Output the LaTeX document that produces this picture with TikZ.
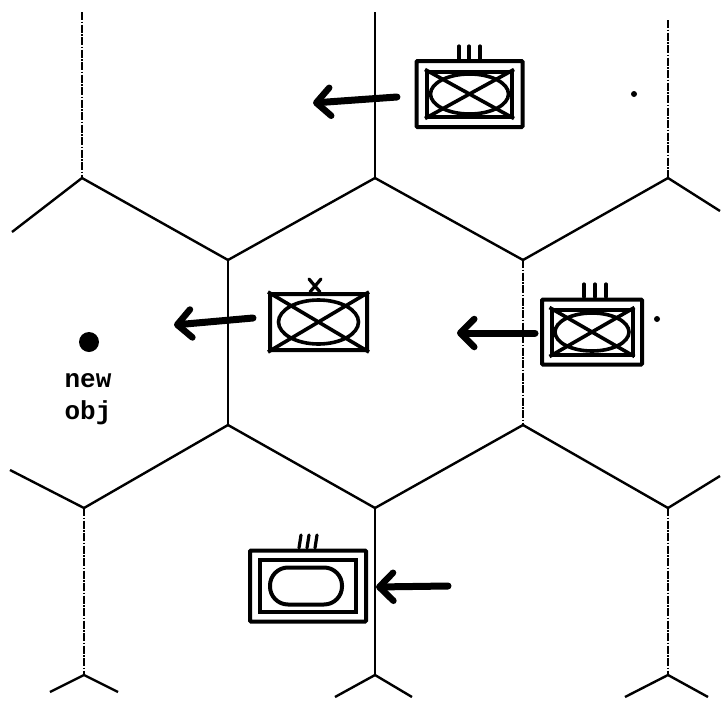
\documentclass[tikz,border=0pt]{standalone}
\usepackage{fontspec}
\setmonofont{Liberation Mono}
\usetikzlibrary{positioning,calc,arrows.meta,shapes.geometric}

\begin{document}
\begin{tikzpicture}[
  x = 1pt,
  y = -1pt,
  hex-edge/.style={line width=2.4pt},
  hex-stem/.style={line width=1.6pt},
  hex-dashed/.style={line width=1.3pt,dash pattern=on 8pt off 1.5pt on 1.5pt off 1.5pt},
  move-arrow/.style={line width=7pt,line cap=round,-{Straight Barb[round,length=14pt,width=28pt,line width=6.5pt]}},
  outer-box/.style={draw,line width=4pt,rectangle,inner sep=0pt,rounded corners=1pt},
  inner-box/.style={draw,line width=4pt,rectangle,inner sep=0pt},
  oval/.style={draw,line width=3.6pt,ellipse,inner sep=0pt},
  flat-oval/.style={draw,line width=4pt,rectangle,rounded corners=18pt,inner sep=0pt},
  cross/.style={line width=3.6pt},
  tick/.style={line width=3.2pt,line cap=round},
  ]
  \useasboundingbox (0,0) rectangle (721,702);

  % cell corners
  \coordinate (top-a) at (82,178);
  \coordinate (top-b) at (375,178);
  \coordinate (top-c) at (668,178);
  \coordinate (mid-a) at (228,260);
  \coordinate (mid-b) at (523,260);
  \coordinate (low-a) at (228,425);
  \coordinate (low-b) at (523,425);
  \coordinate (base-a) at (84,508);
  \coordinate (base-b) at (375,508);
  \coordinate (base-c) at (668,508);
  \coordinate (foot-a) at (84,675);
  \coordinate (foot-b) at (375,675);
  \coordinate (foot-c) at (668,675);

  \foreach \from/\to in {top-a/mid-a,mid-a/top-b,top-b/mid-b,mid-b/top-c,
    low-a/base-a,low-a/base-b,base-b/low-b,low-b/base-c} {
    \draw [hex-edge] (\from) -- (\to);
  }
  \coordinate (left-up) at (12,232);
  \coordinate (right-up) at (720,211);
  \coordinate (left-low) at (10,470);
  \coordinate (right-low) at (720,476);
  \draw [hex-edge] (left-up) -- (top-a);
  \draw [hex-edge] (top-c) -- (right-up);
  \draw [hex-edge] (left-low) -- (base-a);
  \draw [hex-edge] (base-c) -- (right-low);

  % stems
  \coordinate (stem-a) at (82,12);
  \coordinate (stem-b) at (375,12);
  \coordinate (stem-c) at (668,20);
  \draw [hex-dashed] (stem-a) -- (top-a);
  \draw [hex-stem] (stem-b) -- (top-b);
  \draw [hex-dashed] (stem-c) -- (top-c);
  \draw [hex-stem] (mid-a) -- (low-a);
  \draw [hex-dashed] (mid-b) -- (low-b);
  \draw [hex-dashed] (base-a) -- (foot-a);
  \draw [hex-stem] (base-b) -- (foot-b);
  \draw [hex-dashed] (base-c) -- (foot-c);

  % feet
  \coordinate (foot-a-l) at (50,692);
  \coordinate (foot-a-r) at (118,692);
  \coordinate (foot-b-l) at (335,697);
  \coordinate (foot-b-r) at (412,697);
  \coordinate (foot-c-l) at (625,697);
  \coordinate (foot-c-r) at (708,697);
  \foreach \f in {foot-a,foot-b,foot-c} {
    \draw [hex-edge] (\f-l) -- (\f) -- (\f-r);
  }

  % top unit
  \node [outer-box,minimum width=106pt,minimum height=66pt] (top-unit) at (469.5,94) {};
  \node [inner-box,minimum width=85pt,minimum height=45pt] (top-inner) at (469.5,94) {};
  \node [oval,minimum width=78pt,minimum height=40pt] (top-oval) at (469.5,94) {};
  \draw [cross] (top-inner.north west) -- (top-inner.south east);
  \draw [cross] (top-inner.south west) -- (top-inner.north east);
  \foreach \x in {459,469,480} {
    \draw [tick] (\x,46) -- (\x,59);
  }

  % middle unit
  \node [outer-box,minimum width=97pt,minimum height=56pt] (mid-unit) at (318.5,322) {};
  \node [oval,minimum width=80pt,minimum height=44pt] (mid-oval) at (318.5,322) {};
  \draw [cross] (mid-unit.north west) -- (mid-unit.south east);
  \draw [cross] (mid-unit.south west) -- (mid-unit.north east);
  \draw [tick] (309,279) -- (320,292);
  \draw [tick] (321,279) -- (310,292);

  % right unit
  \node [outer-box,minimum width=100pt,minimum height=65pt] (right-unit) at (592,332) {};
  \node [inner-box,minimum width=81pt,minimum height=45pt] (right-inner) at (592,332) {};
  \node [oval,minimum width=74pt,minimum height=38pt] (right-oval) at (592,332) {};
  \draw [cross] (right-inner.north west) -- (right-inner.south east);
  \draw [cross] (right-inner.south west) -- (right-inner.north east);
  \foreach \x in {584,595,606} {
    \draw [tick] (\x,284) -- (\x,297);
  }

  % lower unit
  \node [outer-box,minimum width=116pt,minimum height=71pt] (low-unit) at (308,586) {};
  \node [inner-box,minimum width=96pt,minimum height=52pt] (low-inner) at (308,586) {};
  \node [flat-oval,minimum width=72pt,minimum height=37pt] (low-oval) at (306,586) {};
  \foreach \x in {300,308,316} {
    \draw [tick] (\x+1,535) -- (\x-1,548);
  }

  % moves
  \coordinate (move-a-from) at (397,97);
  \coordinate (move-a-to) at (313,103);
  \coordinate (move-b-from) at (253,318);
  \coordinate (move-b-to) at (174,325);
  \coordinate (move-c-from) at (535,333);
  \coordinate (move-c-to) at (457,333);
  \coordinate (move-d-from) at (448,586);
  \coordinate (move-d-to) at (376,587);
  \foreach \m in {move-a,move-b,move-c,move-d} {
    \draw [move-arrow] (\m-from) -- (\m-to);
  }

  % objective
  \node [circle,fill,inner sep=0pt,minimum size=20pt] (obj-dot) at (89,342) {};
  \node [font=\ttfamily\bfseries\fontsize{26}{32}\selectfont,align=center,inner sep=0pt] (obj-label) at (88,399) {new\\obj};

  % specks
  \node [circle,fill,inner sep=0pt,minimum size=6pt] (speck-a) at (634,94) {};
  \node [circle,fill,inner sep=0pt,minimum size=6pt] (speck-b) at (657,319) {};
\end{tikzpicture}
\end{document}
